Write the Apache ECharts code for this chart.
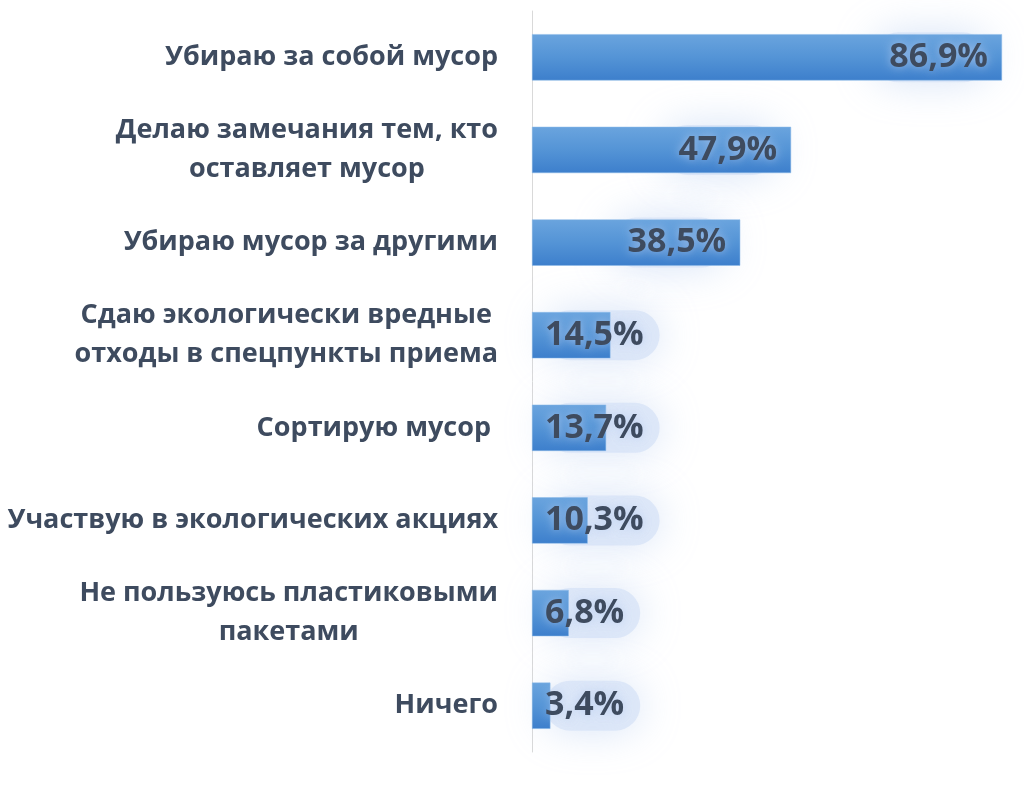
<!DOCTYPE html>
<html><head><meta charset="utf-8">
<script src="https://cdn.jsdelivr.net/npm/echarts@6/dist/echarts.min.js"></script>
<style>html,body{margin:0;padding:0;background:#fff}#c{width:1024px;height:798px}</style>
</head><body><div id="c"></div>
<script>
const categories = [
  'Убираю за собой мусор',
  'Делаю замечания тем, кто\nоставляет мусор',
  'Убираю мусор за другими',
  'Сдаю экологически вредные\nотходы в спецпункты приема',
  'Сортирую мусор ',
  'Участвую в экологических акциях',
  'Не пользуюсь пластиковыми\nпакетами',
  'Ничего'
];
const values = [86.9, 47.9, 38.5, 14.5, 13.7, 10.3, 6.8, 3.4];
const valueLabels = ['86,9%', '47,9%', '38,5%', '14,5%', '13,7%', '10,3%', '6,8%', '3,4%'];

const chart = echarts.init(document.getElementById('c'));
const textColor = '#3e4b5f';
const barGrad = new echarts.graphic.LinearGradient(0, 0, 0, 1, [
  {offset: 0, color: '#6aa4de'},
  {offset: 0.5, color: '#5494d6'},
  {offset: 1, color: '#3d7fcc'}
]);
const labelPos = v => ({position: v > 30 ? 'insideRight' : 'insideLeft', distance: v > 30 ? 14 : 13});
const baseLabel = {
  show: true,
  formatter: p => valueLabels[p.dataIndex],
  fontFamily: 'Open Sans', fontWeight: 'bold', fontSize: 34
};
chart.setOption({
  animation: false,
  grid: {left: 532, top: 11, width: 470 * 90 / 86.9, height: 741, containLabel: false, outerBoundsMode: 'none'},
  xAxis: {type: 'value', min: 0, max: 90, show: false},
  yAxis: {
    type: 'category', inverse: true, data: categories,
    axisLine: {show: true, lineStyle: {color: '#d9d9d9', width: 1}},
    axisTick: {show: false}, splitLine: {show: false},
    axisLabel: {
      margin: 34, fontFamily: 'Open Sans', fontWeight: 'bold', fontSize: 27,
      color: textColor, lineHeight: 39,
      formatter: v => v.split('\n').map(s => '{c|' + s + '}').join('\n'),
      rich: {c: {align: 'center', fontFamily: 'Open Sans', fontWeight: 'bold', fontSize: 27, color: textColor, lineHeight: 39}}
    }
  },
  series: [{
    // glow layer drawn beneath the bars
    type: 'bar', barWidth: '50%', z: 1, silent: true,
    data: values.map(v => ({value: v, label: labelPos(v)})),
    itemStyle: {color: 'rgba(0,0,0,0)'},
    label: Object.assign({}, baseLabel, {
      color: 'rgba(0,0,0,0)',
      backgroundColor: 'rgba(212,225,247,0.7)', borderRadius: 28,
      padding: [10, 8, 6, 8],
      shadowColor: 'rgba(200,216,244,1)', shadowBlur: 40
    })
  }, {
    type: 'bar', barWidth: '50%', barGap: '-100%', z: 2,
    data: values.map(v => ({value: v, label: labelPos(v)})),
    itemStyle: {color: barGrad, borderColor: '#8dbbe8', borderWidth: 0.5},
    label: Object.assign({}, baseLabel, {
      color: textColor,
      textShadowColor: 'rgba(185,205,240,0.8)', textShadowBlur: 10
    })
  }]
});
</script></body></html>
